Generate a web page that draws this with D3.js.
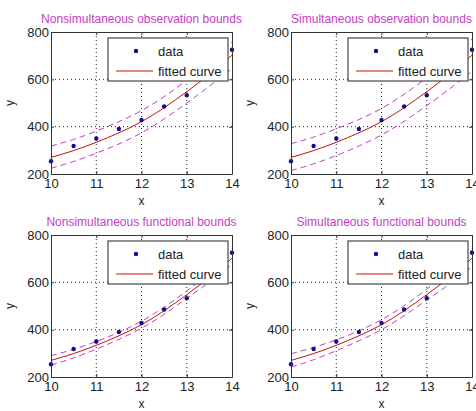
<!DOCTYPE html>
<html>
<head>
<meta charset="utf-8">
<script src="https://cdnjs.cloudflare.com/ajax/libs/d3/7.8.5/d3.min.js"></script>
<style>
  body { margin: 0; background: #fff; }
  text { font-family: "Liberation Sans", Arial, sans-serif; }
</style>
</head>
<body>
<div id="chart"></div>
<script>
// data
var xData = [10, 10.5, 11, 11.5, 12, 12.5, 13, 13.5, 14];
var yData = [254, 318, 350, 390, 428, 485, 533, 615, 725];

// fitted curve and bounds, sampled at the same x
var fitY = [270, 299, 334, 374, 421, 480, 548, 621, 702];
var obsNonUpper = [318, 346, 381, 421, 468, 527, 596, 671, 758];
var obsNonLower = [224, 253, 288, 327, 374, 433, 500, 571, 646];
var obsSimUpper = [328, 356, 391, 430, 477, 537, 607, 683, 770];
var obsSimLower = [214, 243, 278, 318, 365, 423, 489, 559, 634];
var funNonUpper = [290, 317, 350, 389, 436, 495, 564, 641, 727];
var funNonLower = [250, 281, 318, 359, 406, 465, 532, 601, 677];
var funSimUpper = [298, 325, 357, 395, 442, 501, 571, 650, 737];
var funSimLower = [242, 273, 311, 353, 400, 459, 525, 592, 667];

var titles = ['Nonsimultaneous observation bounds', 'Simultaneous observation bounds',
              'Nonsimultaneous functional bounds', 'Simultaneous functional bounds'];
var uppers = [obsNonUpper, obsSimUpper, funNonUpper, funSimUpper];
var lowers = [obsNonLower, obsSimLower, funNonLower, funSimLower];

var xTicks = [10, 11, 12, 13, 14];
var yTicks = [200, 400, 600, 800];
var legendLabels = ['data', 'fitted curve'];

var width = 476, height = 411;
var svg = d3.select('#chart').append('svg')
    .attr('width', width)
    .attr('height', height);

// panel boxes (left, top) and size
var boxes = [[51, 32], [291, 32], [51, 235], [291, 235]];
var pw = 181, ph = 142;

var magenta = '#c63cc6';

titles.forEach(function(t, i) {
    var g = svg.append('g')
        .attr('transform', 'translate(' + boxes[i][0] + ',' + boxes[i][1] + ')');

    var x = d3.scaleLinear().domain([10, 14]).range([0, pw]);
    var y = d3.scaleLinear().domain([200, 800]).range([ph, 0]);

    //dotted grid
    g.selectAll('.vgrid').data(xTicks.slice(1, -1)).enter().append('line')
        .attr('x1', function(d) { return x(d); })
        .attr('x2', function(d) { return x(d); })
        .attr('y1', 0).attr('y2', ph)
        .attr('stroke', '#222').attr('stroke-width', 1)
        .attr('stroke-dasharray', '1,3');
    g.selectAll('.hgrid').data(yTicks.slice(1, -1)).enter().append('line')
        .attr('y1', function(d) { return y(d); })
        .attr('y2', function(d) { return y(d); })
        .attr('x1', 0).attr('x2', pw)
        .attr('stroke', '#222').attr('stroke-width', 1)
        .attr('stroke-dasharray', '1,3');

    var line = d3.line()
        .x(function(d, j) { return x(xData[j]); })
        .y(function(d) { return y(d); })
        .curve(d3.curveNatural);

    // bounds
    [uppers[i], lowers[i]].forEach(function(b) {
        g.append('path')
            .attr('d', line(b))
            .attr('fill', 'none')
            .attr('stroke', magenta)
            .attr('stroke-width', 1)
            .attr('stroke-dasharray', '6,4');
    });

    // fitted curve
    g.append('path')
        .attr('d', line(fitY))
        .attr('fill', 'none')
        .attr('stroke', '#c41010')
        .attr('stroke-width', 1);

    // data
    g.selectAll('.dot').data(yData).enter().append('circle')
        .attr('cx', function(d, j) { return x(xData[j]); })
        .attr('cy', function(d) { return y(d); })
        .attr('r', 2.2)
        .attr('fill', '#10108a');

    // axes box + ticks
    var xAxisB = d3.axisBottom(x).tickValues(xTicks).tickFormat(d3.format('d'))
        .tickSizeInner(-3).tickSizeOuter(0).tickPadding(4);
    var yAxisL = d3.axisLeft(y).tickValues(yTicks).tickFormat(d3.format('d'))
        .tickSizeInner(-3).tickSizeOuter(0).tickPadding(6);
    var xAxisT = d3.axisTop(x).tickValues(xTicks).tickSizeInner(-3).tickSizeOuter(0).tickFormat('');
    var yAxisR = d3.axisRight(y).tickValues(yTicks).tickSizeInner(-3).tickSizeOuter(0).tickFormat('');

    var ax = [
        g.append('g').attr('transform', 'translate(0,' + ph + ')').call(xAxisB),
        g.append('g').call(yAxisL),
        g.append('g').call(xAxisT),
        g.append('g').attr('transform', 'translate(' + pw + ',0)').call(yAxisR)
    ];
    ax.forEach(function(a) {
        a.selectAll('path').attr('stroke', '#333');
        a.selectAll('line').attr('stroke', '#333');
        a.selectAll('text').attr('fill', '#222').style('font-size', '13px');
    });
    ax[0].selectAll('text').attr('dy', '0.75em');
    ax[1].selectAll('text').attr('dx', '4');

    // legend
    var lg = g.append('g').attr('transform', 'translate(57,6)');
    lg.append('rect')
        .attr('width', 120).attr('height', 43)
        .attr('fill', '#fff').attr('stroke', '#222');
    lg.append('circle').attr('cx', 28).attr('cy', 13).attr('r', 2.2).attr('fill', '#10108a');
    lg.append('line').attr('x1', 8).attr('x2', 45).attr('y1', 33).attr('y2', 33)
        .attr('stroke', '#c41010');
    lg.selectAll('.lt').data(legendLabels).enter().append('text')
        .attr('x', 50)
        .attr('y', function(d, j) { return 13 + j * 20; })
        .attr('dy', '0.35em')
        .attr('fill', '#222')
        .style('font-size', '13px')
        .text(function(d) { return d; });

    // title and labels
    g.append('text')
        .attr('x', pw / 2).attr('y', -9)
        .attr('text-anchor', 'middle')
        .attr('fill', magenta)
        .style('font-size', '12px')
        .text(t);
    g.append('text')
        .attr('x', pw / 2).attr('y', ph + 31)
        .attr('text-anchor', 'middle')
        .attr('fill', '#222')
        .style('font-size', '12px')
        .text('x');
    g.append('text')
        .attr('transform', 'translate(-37,' + (ph / 2) + ') rotate(-90)')
        .attr('text-anchor', 'middle')
        .attr('fill', '#222')
        .style('font-size', '12px')
        .text('y');
});
</script>
</body>
</html>
